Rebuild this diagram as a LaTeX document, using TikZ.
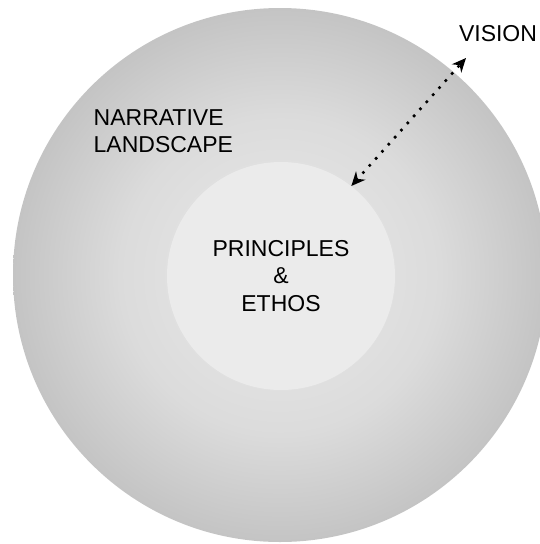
\documentclass[tikz,border=0pt]{standalone}
\usepackage{fontspec}
\setmainfont{Liberation Sans}
\usepackage{xcolor}
\usetikzlibrary{positioning, arrows.meta, shapes}

\definecolor{coregray}{gray}{0.92}
\definecolor{innergray}{gray}{0.86}
\definecolor{midgray}{gray}{0.77}
\definecolor{rimgray}{gray}{0.65}

% radius of the circle falls at about 35.4bp of the shading
\pgfdeclareradialshading{landscapeshade}{\pgfpoint{0bp}{0bp}}{%
    color(0bp)=(coregray); color(14.9bp)=(innergray); color(24.8bp)=(midgray); color(35.4bp)=(rimgray); color(50bp)=(rimgray)}

\begin{document}
\begin{tikzpicture}[
    x=1pt, y=-1pt,
    landscape/.style={circle, draw=none, shade, shading=landscapeshade, minimum size=534pt, inner sep=0pt},
    core/.style={circle, draw=none, fill=coregray, minimum size=228pt, inner sep=0pt, align=center, font=\fontsize{23}{27.5}\selectfont},
    label/.style={inner sep=0pt, align=left, font=\fontsize{23}{27}\selectfont},
    arrow/.style={{Stealth[length=14pt, width=12.5pt, inset=4.5pt]}-{Stealth[length=14pt, width=12.5pt, inset=4.5pt]}, black, line width=3.6pt, line cap=round, dash pattern=on 0pt off 9.5pt}
]

% Frame of the picture
\useasboundingbox (0,0) rectangle (540,544);
\clip (0,0) rectangle (540,544);

% Circles
\node[landscape] (landscape) at (280, 275) {};
\node[core] (ethos) at (281, 276) {PRINCIPLES\\\&\\ETHOS};

% Labels
\node[label, anchor=west] (narrative) at (93.5, 131.3) {NARRATIVE\\LANDSCAPE};
\node[label, anchor=center] (vision) at (498, 33.5) {VISION};

% Arrow between the core and the vision
\coordinate (tip) at (466, 58);
\draw[arrow] (ethos.52) -- (tip);

\end{tikzpicture}
\end{document}
